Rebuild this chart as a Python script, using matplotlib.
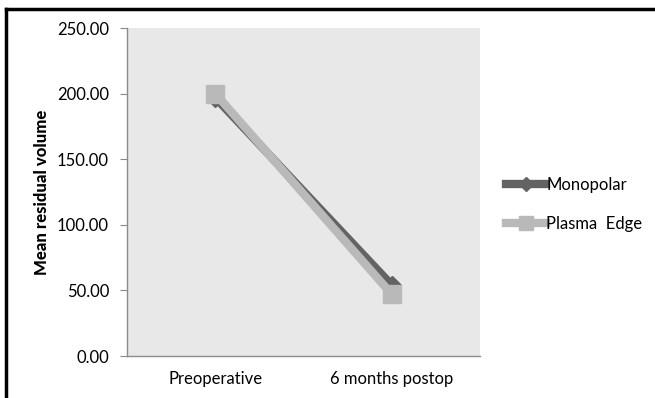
import matplotlib
matplotlib.use("Agg")
import matplotlib.pyplot as plt
from matplotlib.lines import Line2D

plt.rcParams['font.family'] = ['Lato', 'DejaVu Sans']

categories = ["Preoperative", "6 months postop"]
monopolar = [197, 54]
plasma_edge = [200, 47]
y_ticks = [0, 50, 100, 150, 200, 250]

fig = plt.figure(figsize=(6.55, 3.98), dpi=100)
ax = fig.add_axes([0.194, 0.1055, 0.539, 0.824])
ax.set_facecolor("#e8e8e8")

x = [0, 1]
ax.plot(x, monopolar, color="#636363", lw=6, marker="D", markersize=9,
        label="Monopolar", zorder=3)
ax.plot(x, plasma_edge, color="#b9b9b9", lw=6, marker="s", markersize=13.5,
        label="Plasma  Edge", zorder=4)

ax.set_xlim(-0.5, 1.5)
ax.set_ylim(0, 250)
ax.set_yticks(y_ticks)
ax.set_yticklabels([f"{v:.2f}" for v in y_ticks], fontsize=12)
ax.set_xticks(x)
ax.set_xticklabels(categories, fontsize=12)
ax.tick_params(axis="x", length=0, pad=11)
ax.tick_params(axis="y", length=5, color="#888888", pad=8)

for side in ("top", "right"):
    ax.spines[side].set_visible(False)
for side in ("left", "bottom"):
    ax.spines[side].set_color("#8c8c8c")
    ax.spines[side].set_linewidth(1)

ax.set_ylabel("Mean residual volume", fontsize=12, fontweight="black", labelpad=5)

leg = fig.legend(loc="center left", bbox_to_anchor=(0.75, 0.486), frameon=False,
                 fontsize=12, handlelength=2.4, handletextpad=0.0,
                 labelspacing=1.35, markerscale=0.75)

# outer frame (top and left edges)
fig.add_artist(Line2D([0.009, 0.009], [0, 0.978], color="black", lw=2.5,
                      transform=fig.transFigure))
fig.add_artist(Line2D([0.009, 1.0], [0.978, 0.978], color="black", lw=2.5,
                      transform=fig.transFigure))

fig.savefig("out.png", dpi=100)
